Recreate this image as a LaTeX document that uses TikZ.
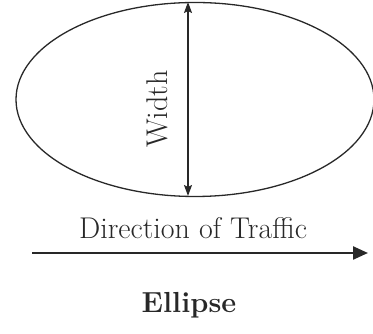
\documentclass[tikz,border=0pt]{standalone}
\usepackage{tikz}
\usetikzlibrary{shapes.geometric, arrows.meta, positioning}
\definecolor{inkdark}{RGB}{40, 40, 40}

\begin{document}
\begin{tikzpicture}[
  x=1pt, y=1pt,
  every node/.style={inner sep=0pt, text=inkdark},
  oval/.style={draw=inkdark, line width=1.3pt, ellipse, minimum width=358pt, minimum height=194pt},
  lbl/.style={font=\fontsize{30}{34}\selectfont},
  >={Stealth[length=11pt, width=8pt, inset=2pt]}
]
\useasboundingbox (0, 0) rectangle (373, 334);
\node[oval] (shape) at (195, 234.5) {};
\coordinate (wtop) at (188, 332);
\coordinate (wbot) at (188, 138);
\draw[<->, line width=1.6pt, inkdark] (wtop) -- (wbot);
\node[lbl, rotate=90] (widthlabel) at (157, 225) {Width};
\node[lbl, anchor=base] (dirlabel) at (193, 95) {Direction of Traffic};
\coordinate (trafstart) at (32, 81);
\coordinate (trafend) at (368, 81);
\draw[-{Triangle[length=15pt, width=13pt]}, line width=2.4pt, inkdark] (trafstart) -- (trafend);
\node[font=\fontsize{29}{34}\selectfont\bfseries, anchor=base] (title) at (189, 21) {Ellipse};
\end{tikzpicture}
\end{document}
